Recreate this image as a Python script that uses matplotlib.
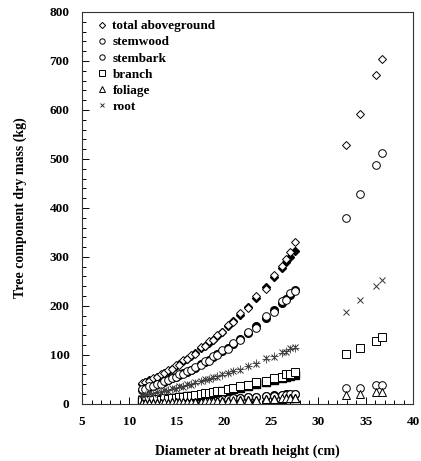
import matplotlib
matplotlib.use("Agg")
import matplotlib.pyplot as plt
from matplotlib.ticker import MultipleLocator

# small trees: measured (open) and predicted (filled)
dbh = [11.3, 11.7, 12.1, 12.5, 12.9, 13.3, 13.7, 14.1, 14.5, 14.9, 15.3, 15.7,
       16.1, 16.5, 16.9, 17.6, 18.0, 18.4, 18.8, 19.3, 19.8, 20.4, 21.0, 21.7,
       22.5, 23.4, 24.4, 25.3, 26.1, 26.6, 27.0, 27.5]

total_obs = [43, 45, 46, 53, 54, 61, 62, 70, 71, 79, 80, 90, 91, 100, 101, 116,
             118, 128, 130, 141, 146, 160, 167, 185, 196, 220, 235, 263, 282, 295, 310, 331]
total_pred = [41, 44, 48, 51, 55, 59, 63, 68, 72, 77, 82, 87, 92, 97, 103, 113,
              119, 125, 131, 139, 147, 158, 169, 182, 198, 216, 238, 259, 278, 290, 300, 313]

stemwood_obs = [30, 31, 36, 36, 41, 41, 47, 48, 53, 54, 61, 61, 68, 69, 76, 80,
                88, 88, 97, 99, 109, 112, 125, 130, 147, 155, 179, 188, 209, 212, 226, 230]
stemwood_pred = [29, 32, 35, 37, 40, 42, 45, 49, 52, 55, 59, 63, 66, 70, 74, 82,
                 86, 90, 95, 101, 107, 115, 123, 133, 145, 159, 176, 192, 206, 215, 223, 233]

stembark_obs = [3, 2.5, 3.5, 3, 4, 3.5, 4.5, 4, 5, 5, 6, 5.5, 6.5, 6, 7.5, 7,
                8.5, 8, 9.5, 9, 10.5, 10, 12, 12, 14, 14, 16.5, 17, 19, 19, 21, 21]
stembark_pred = [2.5, 2.7, 3, 3.2, 3.5, 3.8, 4, 4.3, 4.6, 5, 5.3, 5.7, 6, 6.4, 6.8, 7.5,
                 8, 8.4, 8.8, 9.3, 9.9, 10.6, 11.3, 12.2, 13.2, 14.4, 15.8, 17.2, 18.4, 19.2, 19.9, 20.8]

branch_obs = [7, 6, 8, 7, 9, 8, 11, 10, 12, 11, 14, 13, 16, 15, 18, 21,
              22, 23, 24, 26, 27, 31, 32, 36, 38, 44, 46, 53, 55, 60, 61, 64]
branch_pred = [6, 6.5, 7, 7.5, 8, 9, 9.5, 10, 11, 12, 13, 14, 15, 16, 17, 19,
               20, 21, 22.5, 24, 26, 28, 30, 33, 36, 40, 44, 48, 52, 54, 56, 58]

foliage_obs = [2, 1.5, 2, 2, 2.5, 2, 3, 2.5, 3, 3, 3.5, 3, 4, 3.5, 4.5, 4,
               5, 5, 5.5, 5.5, 6, 6.5, 7, 7, 8, 8.5, 9.5, 10, 11, 11, 12, 12]
foliage_pred = [1.5, 1.6, 1.8, 1.9, 2.1, 2.2, 2.4, 2.6, 2.8, 3, 3.2, 3.4, 3.6, 3.8, 4, 4.4,
                4.7, 4.9, 5.2, 5.5, 5.8, 6.2, 6.6, 7.1, 7.7, 8.4, 9.2, 10, 10.7, 11.1, 11.5, 12]

root_obs = [19, 18, 22, 21, 25, 24, 28, 27, 32, 31, 36, 35, 40, 39, 44, 46,
            51, 50, 55, 55, 60, 62, 68, 70, 78, 81, 93, 96, 106, 106, 113, 116]
root_pred = [18, 19, 21, 22, 24, 25, 27, 29, 31, 33, 35, 37, 39, 41, 43, 47,
             49, 51, 53, 56, 59, 63, 67, 71, 77, 83, 91, 98, 104, 108, 111, 115]

# large trees: measured only
dbh_big = [32.9, 34.4, 36.1, 36.7]
total_big = [528, 592, 672, 705]
stemwood_big = [379, 428, 488, 512]
stembark_big = [33, 33, 39, 39]
branch_big = [101, 113, 128, 136]
foliage_big = [19, 20, 24, 24]
root_big = [187, 212, 241, 253]

plt.rcParams['font.family'] = ['Liberation Serif', 'DejaVu Serif']
plt.rcParams['font.weight'] = 'bold'

fig = plt.figure(figsize=(4.21, 4.61), dpi=100)
ax = fig.add_axes([0.195, 0.124, 0.786, 0.850])

ms = 5.5
open_kw = dict(linestyle='none', markerfacecolor='white', markeredgecolor='black',
               markeredgewidth=0.7, markersize=ms)
fill_kw = dict(linestyle='none', color='black', markersize=ms)

series = [
    ('total aboveground', 'D', total_obs, total_pred, total_big),
    ('stemwood', 'o', stemwood_obs, stemwood_pred, stemwood_big),
    ('stembark', 'o', stembark_obs, stembark_pred, stembark_big),
    ('branch', 's', branch_obs, branch_pred, branch_big),
    ('foliage', '^', foliage_obs, foliage_pred, foliage_big),
    ('root', 'x', root_obs, root_pred, root_big),
]

handles = []
for name, mk, obs, pred, big in series:
    ms_i = ms - 1 if mk == 'D' else ms
    if mk == 'x':
        ax.plot(dbh, pred, marker='+', linestyle='none', color='#555555',
                markersize=ms, markeredgewidth=0.7)
        h, = ax.plot(dbh + dbh_big, obs + big, marker='x', linestyle='none',
                     color='#333333', markersize=ms - 1, markeredgewidth=0.7,
                     label=name)
    else:
        ax.plot(dbh, pred, marker=mk, **dict(fill_kw, markersize=ms_i))
        h, = ax.plot(dbh + dbh_big, obs + big, marker=mk,
                     **dict(open_kw, markersize=ms_i), label=name)
    handles.append(h)

ax.set_xlim(5, 40)
ax.set_ylim(0, 800)
ax.xaxis.set_major_locator(MultipleLocator(5))
ax.xaxis.set_minor_locator(MultipleLocator(1))
ax.yaxis.set_major_locator(MultipleLocator(100))
ax.yaxis.set_minor_locator(MultipleLocator(20))
ax.tick_params(which='both', direction='in', top=False, right=False,
               labelsize=9.5, width=0.7)
ax.tick_params(which='major', length=5, pad=9)
ax.tick_params(which='minor', length=3)
for sp in ax.spines.values():
    sp.set_linewidth(0.8)
    sp.set_color('#333333')

ax.set_xlabel('Diameter at breath height (cm)', fontsize=10, fontweight='bold', labelpad=12)
ax.set_ylabel('Tree component dry mass (kg)', fontsize=10, fontweight='bold', labelpad=16)

leg = ax.legend(handles=handles, loc='upper left', frameon=False, fontsize=9.5,
                markerscale=0.7, handlelength=0.8, handletextpad=0.4,
                labelspacing=0.3, bbox_to_anchor=(0.02, 1.0), borderaxespad=0.2)

fig.savefig('out.png', dpi=100)
